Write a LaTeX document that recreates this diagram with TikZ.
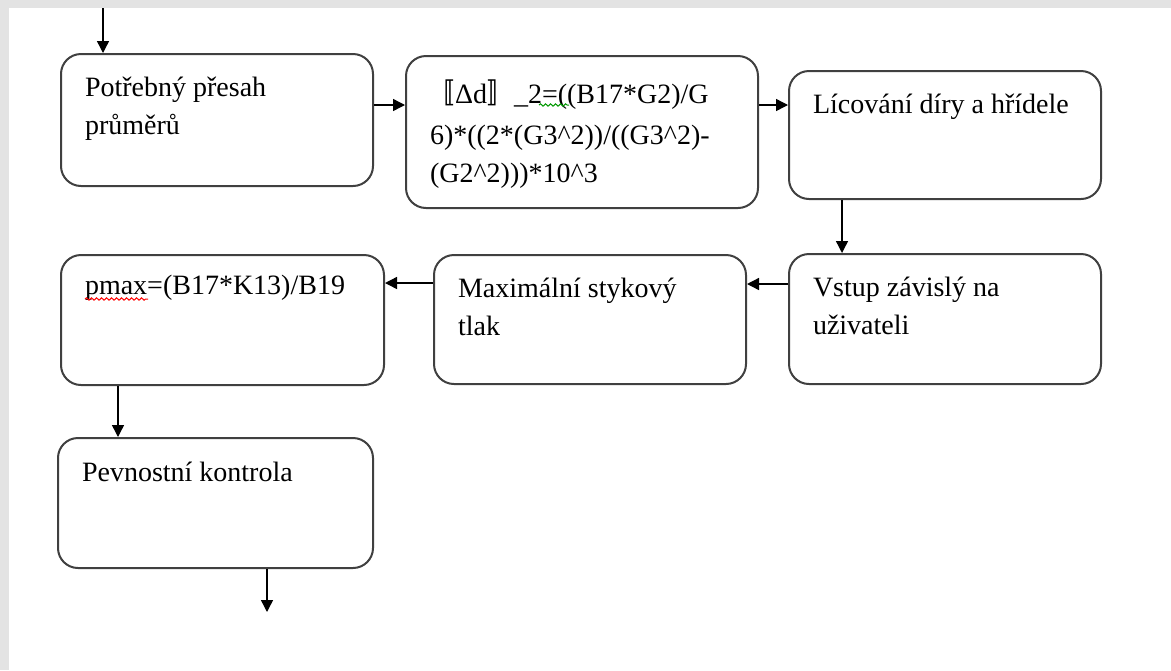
\documentclass[tikz,border=0pt]{standalone}
\usepackage{fontspec}
\setmainfont{Liberation Serif}
\newfontfamily\cjk{Noto Sans CJK SC}
\usepackage{tikz}
\usetikzlibrary{arrows.meta,decorations.pathmorphing}
\newcommand{\flowtext}[4][21pt]{\parbox[c][#3][t]{#2}{\raggedright\rule{0pt}{#1}#4}}

\begin{document}
\begin{tikzpicture}[x=0.5pt,y=-0.5pt]
\tikzstyle{every node}=[draw=black!75,line width=1pt,rounded corners=10pt,anchor=north west,inner xsep=12pt,inner ysep=0pt,font=\fontsize{14}{19}\selectfont];
\tikzstyle{flow}=[->,>={Triangle[length=6pt,width=6pt]},line width=0.7pt];
\tikzstyle{wavy}=[line width=0.5pt,decorate,decoration={snake,segment length=2.5pt,amplitude=0.6pt}];
\fill[gray!22] (0,0) rectangle (1171,670);
\fill[white] (9,8) rectangle (1171,670);
\node (presah) at (60,53) {\flowtext{132pt}{66pt}{Potřebný přesah\\průměrů}};
\node (delta) at (405,55) {\flowtext[23.5pt]{152pt}{76pt}{\hspace{-2pt}{\cjk 〚}\hspace{0.5pt}Δd{\cjk 〛}\hspace{-4pt} \_2=((B17*G2)/G\\[1.5pt]
	6)*((2*(G3\textasciicircum 2))/((G3\textasciicircum 2)-\\
	(G2\textasciicircum 2)))*10\textasciicircum 3}};
\node (licovani) at (788,70) {\flowtext{132pt}{64pt}{Lícování díry a hřídele}};
\node (vstup) at (788,253) {\flowtext{132pt}{65pt}{Vstup závislý na\\uživateli}};
\node (tlak) at (433,254) {\flowtext{132pt}{64.5pt}{Maximální stykový\\tlak}};
\node (pmax) at (60,254) {\flowtext[19.5pt]{137.5pt}{65pt}{pmax=(B17*K13)/B19}};
\node (kontrola) at (57,437) {\flowtext[21.5pt]{133.5pt}{65pt}{Pevnostní kontrola}};
\coordinate (start) at (103,8);
\coordinate (end) at (267,612);
\draw[flow] (start) -- (start |- presah.north);
\draw[flow] (presah.east |- 0,105) -- (delta.west |- 0,105);
\draw[flow] (delta.east |- 0,105) -- (licovani.west |- 0,105);
\draw[flow] (licovani.south -| 842,0) -- (vstup.north -| 842,0);
\draw[flow] (vstup.west |- 0,284) -- (tlak.east |- 0,284);
\draw[flow] (tlak.west |- 0,283) -- (pmax.east |- 0,283);
\draw[flow] (pmax.south -| 118,0) -- (kontrola.north -| 118,0);
\draw[flow] (kontrola.south -| end) -- (end);
\draw[wavy,red] (85,299) -- (148,299);
\draw[wavy,green!60!black] (539,105) -- (569,105);
\end{tikzpicture}
\end{document}
